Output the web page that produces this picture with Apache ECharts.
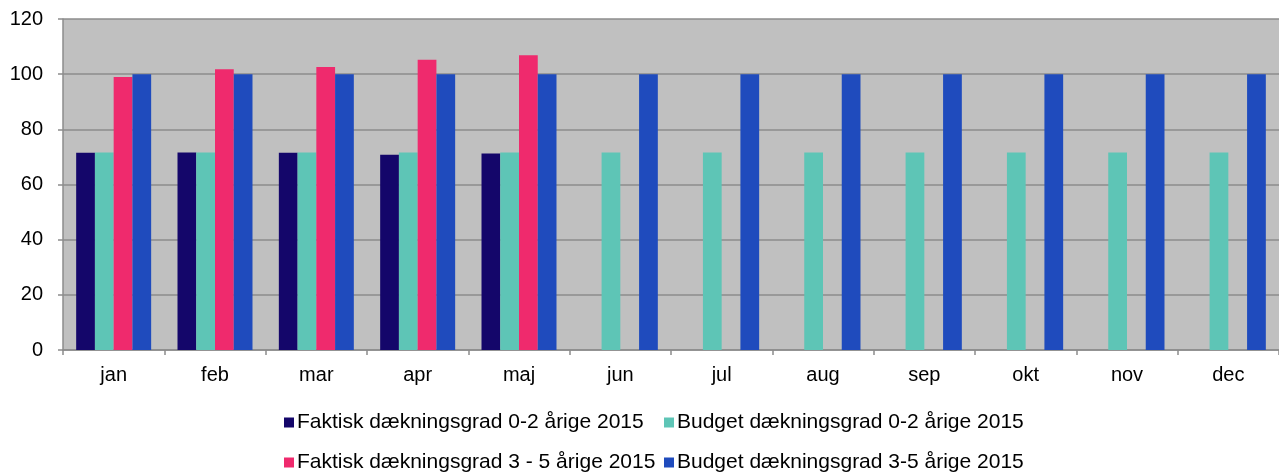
<!DOCTYPE html>
<html>
<head>
<meta charset="utf-8">
<script src="https://cdn.jsdelivr.net/npm/echarts@6/dist/echarts.min.js"></script>
<style>
  html, body { margin: 0; padding: 0; background: #ffffff; }
  #chart { width: 1279px; height: 475px; }
</style>
</head>
<body>
<div id="chart"></div>
<script>
const months = ["jan", "feb", "mar", "apr", "maj", "jun", "jul", "aug", "sep", "okt", "nov", "dec"];
const faktisk02 = [71.5, 71.6, 71.5, 70.8, 71.2, null, null, null, null, null, null, null];
const budget02 = [71.6, 71.6, 71.6, 71.6, 71.6, 71.6, 71.6, 71.6, 71.6, 71.6, 71.6, 71.6];
const faktisk35 = [99.0, 101.8, 102.6, 105.2, 106.9, null, null, null, null, null, null, null];
const budget35 = [100, 100, 100, 100, 100, 100, 100, 100, 100, 100, 100, 100];

const names = [
  "Faktisk dækningsgrad 0-2 årige 2015",
  "Budget dækningsgrad 0-2 årige 2015",
  "Faktisk dækningsgrad 3 - 5 årige 2015",
  "Budget dækningsgrad 3-5 årige 2015"
];
const colors = ["#14066a", "#5ec5b6", "#ef2a6d", "#1f4bbd"];
const font = "'Liberation Sans', Arial, sans-serif";

const chart = echarts.init(document.getElementById("chart"));

function bar(i, data) {
  return {
    name: names[i],
    type: "bar",
    data: data,
    barGap: "0%",
    barCategoryGap: "26%",
    itemStyle: { color: colors[i] },
    animation: false
  };
}

// one legend per item so the two rows line up in columns
function legendItem(i, left, top) {
  return {
    left: left,
    top: top,
    orient: "horizontal",
    padding: 0,
    itemWidth: 10,
    itemHeight: 10,
    icon: "rect",
    data: [names[i]],
    textStyle: { color: "#000", fontFamily: font, fontSize: 21, padding: [0, 0, 0, -2] }
  };
}

chart.setOption({
  animation: false,
  color: colors,
  grid: {
    left: 63,
    right: 0,
    top: 19,
    bottom: 125,
    show: true,
    backgroundColor: "#c0c0c0",
    borderWidth: 0
  },
  legend: [
    legendItem(0, 284, 412),
    legendItem(1, 664, 412),
    legendItem(2, 284, 452),
    legendItem(3, 664, 452)
  ],
  xAxis: {
    type: "category",
    data: months,
    axisLine: { lineStyle: { color: "#8c8c8c", width: 1.5 } },
    axisTick: { show: true, length: 5, lineStyle: { color: "#8c8c8c", width: 1.5 } },
    axisLabel: { color: "#000", fontFamily: font, fontSize: 20, margin: 15 },
    splitLine: { show: false }
  },
  yAxis: {
    type: "value",
    min: 0,
    max: 120,
    interval: 20,
    axisLine: { show: true, lineStyle: { color: "#8c8c8c", width: 1.5 } },
    axisTick: { show: true, length: 5, lineStyle: { color: "#8c8c8c", width: 1.5 } },
    axisLabel: { color: "#000", fontFamily: font, fontSize: 20, margin: 20 },
    splitLine: { show: true, lineStyle: { color: "#8c8c8c", width: 1.5 } }
  },
  series: [
    bar(0, faktisk02),
    bar(1, budget02),
    bar(2, faktisk35),
    bar(3, budget35)
  ]
});
</script>
</body>
</html>
